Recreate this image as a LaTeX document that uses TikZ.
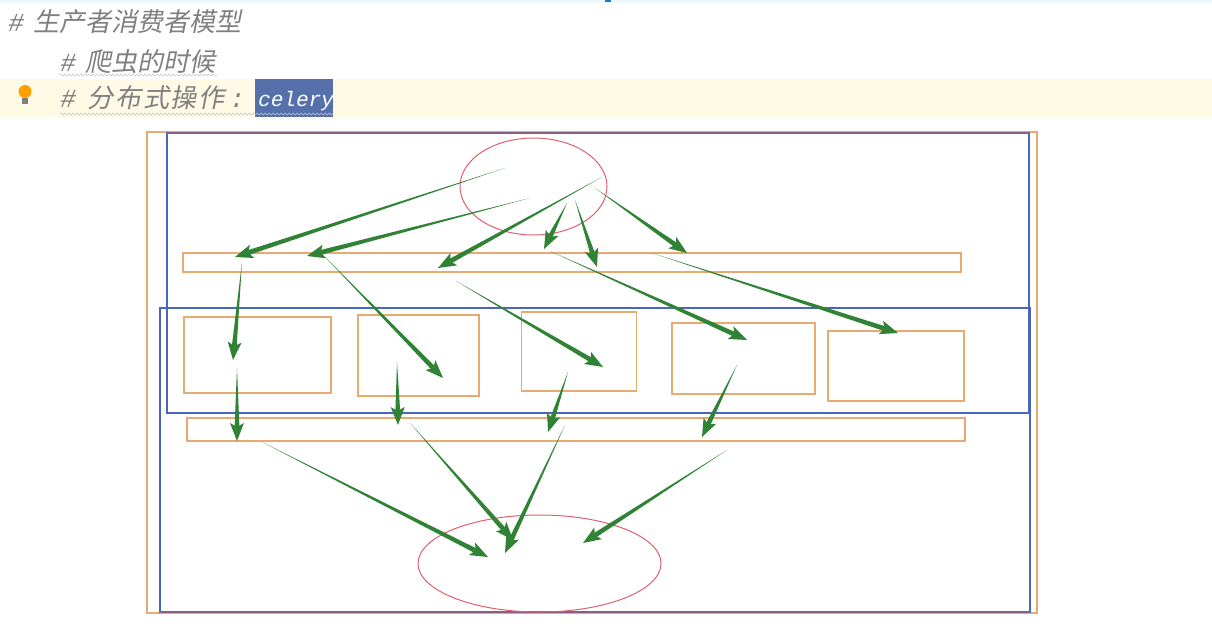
\documentclass[tikz,border=0pt]{standalone}
\usepackage{fontspec}
\newfontfamily\cjk[FakeSlant=0.2]{Noto Sans CJK SC}
\newfontfamily\codefont[FakeSlant=0.2]{Liberation Mono}
\usetikzlibrary{calc}
\usetikzlibrary{shapes.geometric}
\usetikzlibrary{decorations.pathmorphing}
\usepackage{xcolor}
\definecolor{boxorange}{RGB}{232,170,112}
\definecolor{frameblue}{RGB}{72,102,190}
\definecolor{ovalred}{RGB}{222,96,110}
\definecolor{arrowgreen}{RGB}{48,130,52}
\definecolor{edgepurple}{RGB}{140,92,130}
\definecolor{codegray}{RGB}{128,128,128}
\definecolor{linehl}{RGB}{255,250,230}
\definecolor{selblue}{RGB}{86,112,172}

% tapered green arrow from #1 to #2
\newcommand{\greenarrow}[2]{%
 \coordinate (h) at ($(#2)!18pt!(#1)$);
 \coordinate (n) at ($(#2)!14pt!(#1)$);
 \fill[arrowgreen] (#1) -- ($(n)!2.4pt!90:(#2)$) -- ($(n)!2.4pt!-90:(#2)$) -- cycle;
 \fill[arrowgreen] (#2) -- ($(h)!7pt!90:(#2)$) -- (n) -- ($(h)!7pt!-90:(#2)$) -- cycle;
}
\newcommand{\cjktext}[1]{{\cjk\fontsize{26}{26}\selectfont #1}}

\begin{document}
\begin{tikzpicture} [x=1pt, y=-1pt,
 obox/.style={draw=boxorange, line width=1.2pt, inner sep=0},
 oval/.style={ellipse, draw=ovalred, line width=1pt, inner sep=0},
 codeline/.style={anchor=base west, inner sep=0, text=codegray, font=\codefont\fontsize{26}{26}\selectfont},
 wavy/.style={codegray!45, line width=.6pt, decorate, decoration={snake, amplitude=1pt, segment length=4pt}}]
\useasboundingbox (0,0) rectangle (1212,630);
% editor lines
\fill[cyan!7] (0,0) rectangle (1212,3);
\fill[cyan!60!blue] (605,0) rectangle (611,2);
\fill[linehl] (0,79) rectangle (1212,117);
\fill[selblue] (255,79) rectangle (333,117);
\fill[orange!75!yellow] (25,91.5) circle (6.5);
\fill[gray] (22,98) rectangle (28,104);
\node[codeline] (line1) at (7,31) {\#\hspace{11pt}\cjktext{生产者消费者模型}};
\node[codeline] (line2) at (59,71) {\#\hspace{11pt}\cjktext{爬虫的时候}};
\node[codeline] (line3) at (59,107) {\#\hspace{13pt}\cjktext{分\hspace{1.6pt}布\hspace{1.6pt}式\hspace{1.6pt}操\hspace{1.6pt}作}\hspace{4pt}:};
\node[codeline, text=white, font=\codefont\fontsize{21}{21}\selectfont] (celery) at (257,106) {celery};
\draw[wavy] (60,75) -- (217,75);
\draw[wavy] (60,114) -- (333,114);
% frames
\draw[boxorange, line width=1.2pt] (147,132) rectangle (1037,613);
\draw[frameblue, line width=1.1pt] (167,133) rectangle (1029,413);
\draw[frameblue, line width=1.1pt] (160,308) rectangle (1030,612);
\draw[edgepurple, line width=1.3pt] (167,133) -- (1029,133);
\draw[edgepurple, line width=1.3pt] (160,612) -- (1030,612);
% producer, queues, workers, consumer
\node[oval, minimum width=147, minimum height=97] (prod) at (533.5,186.5) {};
\node[oval, minimum width=243, minimum height=97] (cons) at (539.5,563.5) {};
\node[obox, minimum width=778, minimum height=19] (queue1) at (572,262.5) {};
\node[obox, minimum width=778, minimum height=23] (queue2) at (576,429.5) {};
\node[obox, minimum width=147, minimum height=76] (w1) at (257.5,355) {};
\node[obox, minimum width=121, minimum height=81] (w2) at (418.5,355.5) {};
\node[obox, minimum width=115, minimum height=79] (w3) at (579,351.5) {};
\node[obox, minimum width=143, minimum height=71] (w4) at (743.5,358.5) {};
\node[obox, minimum width=136, minimum height=70] (w5) at (896,366) {};
% arrows
\foreach \a/\b/\c/\d [count=\i] in {505/168/235/257, 530/198/307/256, 602/177/438/268,
 567/203/544/249, 575/200/597/267, 595/188/687/253,
 242/262/233/360, 325/257/443/378, 456/281/603/367, 550/251/747/340, 652/253/898/333,
 237/368/237/441, 397/362/398/425, 568/372/548/432, 737/365/702/437,
 262/442/488/557, 410/423/513/540, 565/425/505/553, 727/450/583/543} {
 \coordinate (s\i) at (\a,\b);
 \coordinate (e\i) at (\c,\d);
 \greenarrow{s\i}{e\i}
}
\end{tikzpicture}
\end{document}
